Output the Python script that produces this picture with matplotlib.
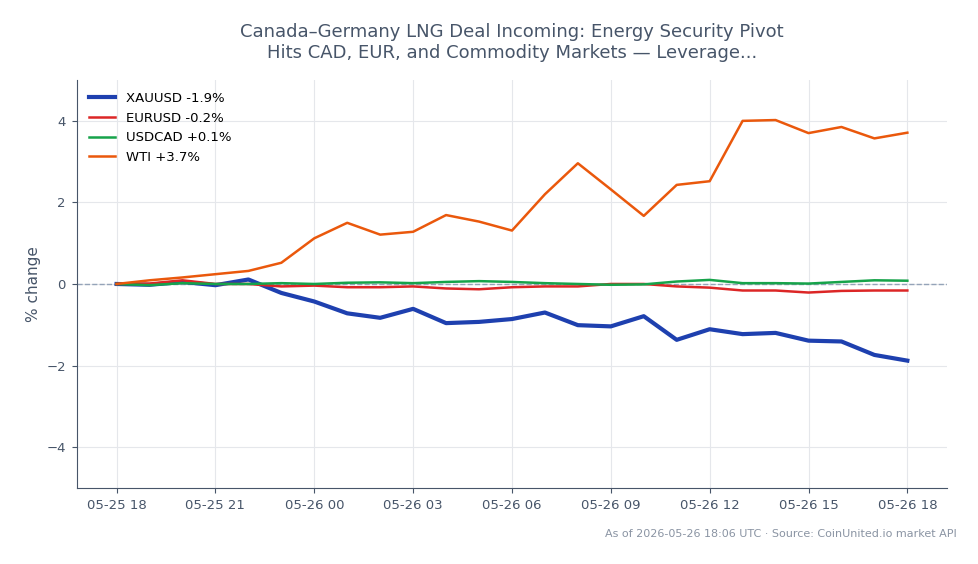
import pandas as pd
import matplotlib
matplotlib.use("Agg")
import matplotlib.pyplot as plt
import matplotlib.dates as mdates

# hourly timestamps, 05-25 18:00 -> 05-26 18:00 UTC
times = pd.date_range("2026-05-25 18:00", "2026-05-26 18:00", freq="h")

# % change from start
xauusd = [0.00, -0.02, 0.05, -0.03, 0.11, -0.22, -0.43, -0.72, -0.83, -0.61, -0.96, -0.93, -0.86,
          -0.70, -1.01, -1.04, -0.79, -1.37, -1.11, -1.23, -1.20, -1.39, -1.41, -1.74, -1.88]
eurusd = [0.00, 0.01, 0.09, 0.00, 0.00, -0.06, -0.04, -0.08, -0.08, -0.06, -0.11, -0.13, -0.08,
          -0.06, -0.06, 0.00, 0.00, -0.06, -0.09, -0.16, -0.16, -0.21, -0.17, -0.16, -0.16]
usdcad = [0.00, -0.03, 0.02, 0.00, 0.00, 0.02, 0.00, 0.03, 0.04, 0.02, 0.05, 0.07, 0.05,
          0.02, 0.00, -0.02, -0.01, 0.06, 0.10, 0.02, 0.02, 0.01, 0.05, 0.09, 0.08]
wti = [0.00, 0.09, 0.16, 0.24, 0.32, 0.52, 1.12, 1.50, 1.21, 1.28, 1.69, 1.53, 1.31,
       2.20, 2.96, 2.32, 1.67, 2.43, 2.52, 4.00, 4.02, 3.70, 3.85, 3.57, 3.71]

labels = ["XAUUSD -1.9%", "EURUSD -0.2%", "USDCAD +0.1%", "WTI +3.7%"]
colors = ["#1e40af", "#dc2626", "#16a34a", "#ea580c"]

text_col = "#475569"

fig = plt.figure(figsize=(9.79, 5.64), dpi=100)
ax = fig.add_axes([0.0787, 0.135, 0.8885, 0.723])

ax.plot(times, xauusd, color=colors[0], lw=3.0, label=labels[0], zorder=3)
ax.plot(times, eurusd, color=colors[1], lw=1.8, label=labels[1], zorder=3)
ax.plot(times, usdcad, color=colors[2], lw=1.8, label=labels[2], zorder=3)
ax.plot(times, wti, color=colors[3], lw=1.8, label=labels[3], zorder=3)
ax.axhline(0, color="#94a3b8", lw=1, ls="--", zorder=2)

ax.set_ylim(-5, 5)
ax.set_yticks([-4, -2, 0, 2, 4])
ax.xaxis.set_major_locator(mdates.HourLocator(byhour=[0, 3, 6, 9, 12, 15, 18, 21]))
ax.xaxis.set_major_formatter(mdates.DateFormatter("%m-%d %H"))

ax.grid(True, color="#e5e7eb", lw=0.8)
ax.set_axisbelow(True)
for s in ["top", "right"]:
    ax.spines[s].set_visible(False)
for s in ["left", "bottom"]:
    ax.spines[s].set_color(text_col)
ax.tick_params(colors=text_col, labelsize=9.5, pad=4.5)
ax.set_ylabel("% change", color=text_col, fontsize=11)

ax.set_title("Canada\u2013Germany LNG Deal Incoming: Energy Security Pivot\n"
             "Hits CAD, EUR, and Commodity Markets \u2014 Leverage...",
             color=text_col, fontsize=13, pad=16)

ax.legend(loc="upper left", frameon=False, fontsize=9.5)

fig.text(0.977, 0.045, "As of 2026-05-26 18:06 UTC \u00b7 Source: CoinUnited.io market API",
         ha="right", va="bottom", color="#8a94a3", fontsize=8)

fig.savefig("out.png", dpi=100)
